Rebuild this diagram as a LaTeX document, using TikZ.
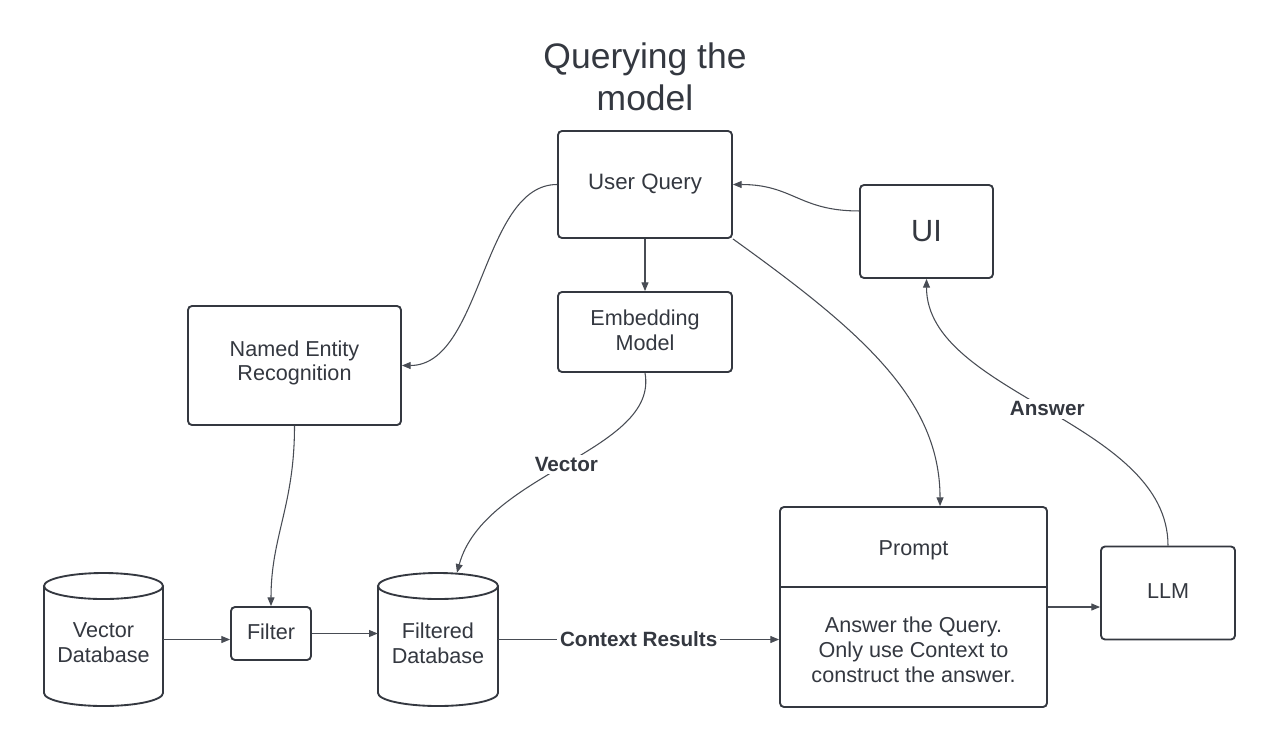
\documentclass[tikz,border=0pt]{standalone}
\usepackage{fontspec}
\setmainfont{Liberation Sans}
\usetikzlibrary{arrows.meta}
\definecolor{ink}{RGB}{52,56,64}
\definecolor{wire}{RGB}{72,76,84}
\begin{document}
\begin{tikzpicture}[x=0.75pt,y=-0.75pt,
  sz/.style 2 args={minimum width=#1*0.75pt, minimum height=#2*0.75pt},
  box/.style={draw=ink, line width=1.4pt, rounded corners=3pt, fill=white, text=ink, align=center,
    font=\fontsize{16.2}{18.6}\selectfont, inner sep=0pt},
  anchorbox/.style={inner sep=0pt, text=ink, align=center, font=\fontsize{16.2}{18.6}\selectfont},
  cyl/.style={draw=ink, line width=1.4pt, fill=white},
  arr/.style={draw=wire, line width=0.8pt, -{Triangle[length=6.5pt,width=5.2pt]}},
  lbl/.style={font=\bfseries\fontsize{15.5}{18}\selectfont, text=ink, fill=white, inner sep=2pt},
  txt/.style={text=ink, align=center, font=\fontsize{16.2}{18.6}\selectfont, inner sep=0pt},
  titletxt/.style={text=ink, align=center, font=\fontsize{26.6}{31.5}\selectfont, inner sep=0pt}]
\useasboundingbox (0,0) rectangle (1280,754);
\fill[white] (0,0) rectangle (1280,754);

% title
\node[titletxt] (title) at (645,77) {Querying the\\model};

% boxes
\node[box, sz={174}{107}, font=\fontsize{16.7}{18.6}\selectfont] (uq) at (645,184.5) {User Query};
\node[box, sz={133}{93}, font=\fontsize{23}{26}\selectfont] (ui) at (926.5,231.5) {UI};
\node[box, sz={174}{80}] (emb) at (645,332) {};
\node[txt] (embt) at (645,330) {Embedding\\Model};
\node[box, sz={213}{119}] (ner) at (294.5,365.5) {};
\node[txt] (nert) at (294.5,363) {Named Entity\\Recognition};
\node[box, sz={267}{200}] (prompt) at (913.5,607) {};
\draw[draw=ink, line width=1.4pt] (prompt.west |- 0,587) -- (prompt.east |- 0,587);
\node[txt] (ptitle) at (913.5,550) {Prompt};
\node[txt] (pbody) at (913.5,649.5) {Answer the Query.\\Only use Context to\\construct the answer.};
\node[box, sz={134}{93}] (llm) at (1168,593) {};
\node[txt] (llmt) at (1168,591) {LLM};
\node[box, sz={80}{53}] (filter) at (271,633.5) {};
\node[txt] (filtert) at (271,631.5) {Filter};

% cylinders
\draw[cyl] (44,586) -- (44,693) arc[start angle=180,end angle=0,x radius=59.5,y radius=13] -- (163,586);
\draw[cyl] (103.5,586) ellipse[x radius=59.5,y radius=13];
\node[anchorbox, sz={119}{133}] (vdb) at (103.5,639.5) {};
\node[txt] (vdbt) at (103.5,643) {Vector\\Database};

\draw[cyl] (378,586) -- (378,693) arc[start angle=180,end angle=0,x radius=60,y radius=13] -- (498,586);
\draw[cyl] (438,586) ellipse[x radius=60,y radius=13];
\node[anchorbox, sz={120}{133}] (fdb) at (438,639.5) {};
\node[txt] (fdbt) at (438,643) {Filtered\\Database};

% connectors
\draw[arr] ([yshift=15.4pt]ui.west) .. controls +(-60,0) and +(60,0) .. (uq.east);
\draw[arr] (uq.west) .. controls +(-75,0) and +(80,0) .. (ner.east);
\draw[arr] (uq.south) -- (emb.north);
\draw[arr] (uq.south east) .. controls +(128,92) and +(0,-107) .. ([xshift=19.9pt]prompt.north);
\draw[arr] (emb.south) .. controls +(14,78) and +(27,-100) .. ([xshift=14.25pt]fdb.north)
  node[lbl, pos=0.5] (vec) {Vector};
\draw[arr] (ner.south) .. controls +(0,80) and +(0,-70) .. (filter.north);
\draw[arr] (vdb.east) -- (vdb.east -| filter.west);
\draw[arr] (filter.east) -- (filter.east -| fdb.west);
\draw[arr] (fdb.east) -- (fdb.east -| prompt.west) node[lbl, pos=0.5] (ctx) {Context Results};
\draw[arr] (prompt.east) -- (prompt.east -| llm.west);
\draw[arr] (llm.north) .. controls +(0,-124) and +(0,115) .. (ui.south)
  node[lbl, pos=0.5] (ans) {Answer};
\end{tikzpicture}
\end{document}
